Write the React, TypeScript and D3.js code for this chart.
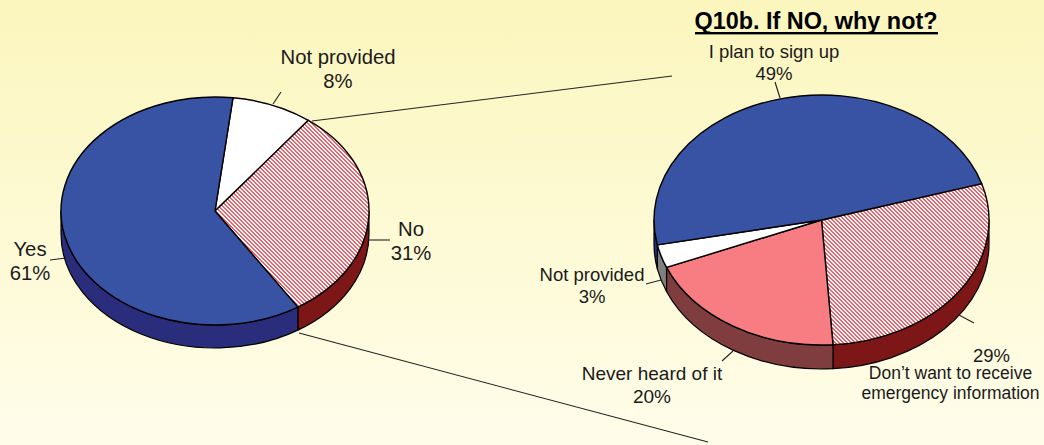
import React from "react";
import * as d3 from "d3";

// Values
const leftCategories = ["Not provided", "No", "Yes"];
const leftValues = [8.5, 30.6, 60.9];
const rightCategories = ["Don't want", "Never heard of it", "Not provided", "I plan to sign up"];
const rightValues = [28.6, 19.9, 3.0, 48.5];

const W = 1044, H = 445;
const FONT = "'Liberation Sans', Arial, sans-serif";
const INK = "#1a1a1a";

type Slice = { top: string; wall: string };
const leftStyles: Slice[] = [
  { top: "#ffffff", wall: "#808080" },
  { top: "url(#hatch)", wall: "#7d1616" },
  { top: "#3953a4", wall: "#2a2d7c" },
];
const rightStyles: Slice[] = [
  { top: "url(#hatch)", wall: "#7d1616" },
  { top: "#f77d82", wall: "#7f3d3f" },
  { top: "#ffffff", wall: "#808080" },
  { top: "#3953a4", wall: "#2a2d7c" },
];

function Pie3D({ values, styles, cx, cy, rx, ry, depth, startDeg, names }: {
  values: number[]; styles: Slice[]; cx: number; cy: number; rx: number; ry: number; depth: number; startDeg: number; names: string[];
}) {
  const start = (startDeg * Math.PI) / 180;
  const arcs = d3.pie<number>().sort(null).startAngle(start).endAngle(start + 2 * Math.PI)(values);
  const x = d3.scaleLinear().domain([-1, 1]).range([cx - rx, cx + rx]);
  const y = d3.scaleLinear().domain([-1, 1]).range([cy - ry, cy + ry]);
  const px = (t: number) => x(Math.sin(t));
  const py = (t: number) => y(-Math.cos(t));
  const ell = (a: number, b: number, cw: boolean, dy = 0) => {
    const large = Math.abs(b - a) > Math.PI ? 1 : 0;
    return `A${rx},${ry} 0 ${large} ${cw ? 1 : 0} ${px(b)},${py(b) + dy}`;
  };
  const lo = Math.PI / 2, hi = (3 * Math.PI) / 2;
  const walls: React.ReactNode[] = [];
  arcs.forEach((a, i) => {
    [0, 2 * Math.PI].forEach((off) => {
      const s = Math.max(a.startAngle - off, lo), e = Math.min(a.endAngle - off, hi);
      if (e <= s) return;
      const d = `M${px(s)},${py(s)}${ell(s, e, true)}L${px(e)},${py(e) + depth}${ell(e, s, false, depth)}Z`;
      walls.push(<path key={`w${i}-${off}`} d={d} fill={styles[i].wall} stroke="#000" strokeWidth={1.2} strokeLinejoin="round" />);
    });
  });
  return (
    <g>
      {walls}
      {arcs.map((a, i) => (
        <path
          key={i}
          data-name={names[i]}
          d={`M${cx},${cy}L${px(a.startAngle)},${py(a.startAngle)}${ell(a.startAngle, a.endAngle, true)}Z`}
          fill={styles[i].top}
          stroke="#000"
          strokeWidth={1.4}
          strokeLinejoin="round"
        />
      ))}
    </g>
  );
}

function Label({ x, y, lines, size, gap }: { x: number; y: number; lines: string[]; size: number; gap?: number }) {
  return (
    <text x={x} y={y} textAnchor="middle" fontFamily={FONT} fontSize={size} fill={INK}>
      {lines.map((l, i) => (
        <tspan key={i} x={x} dy={i === 0 ? 0 : gap ?? size * 1.2}>{l}</tspan>
      ))}
    </text>
  );
}

const hatchPeriod = d3.range(4);

export default function App() {
  return (
    <svg width={W} height={H} viewBox={`0 0 ${W} ${H}`} style={{ position: "absolute", left: 0, top: 0, display: "block" }}>
      <defs>
        <linearGradient id="bg" x1="0" y1="0" x2="0" y2="1">
          <stop offset="0" stopColor="#fbf6bd" />
          <stop offset="1" stopColor="#fffdea" />
        </linearGradient>
        <pattern id="hatch" width={4} height={4} patternUnits="userSpaceOnUse" shapeRendering="crispEdges">
          <rect width={4} height={4} fill="#fff" />
          {hatchPeriod.map((i) => (
            <g key={i} fill="#f2626a">
              <rect x={i} y={i} width={1} height={1} />
              <rect x={(i + 1) % 4} y={i} width={1} height={1} />
            </g>
          ))}
        </pattern>
      </defs>
      <rect width={W} height={H} fill="url(#bg)" />

      <Pie3D values={leftValues} styles={leftStyles} names={leftCategories} cx={215} cy={211} rx={154} ry={114} depth={23} startDeg={6.7} />
      <Pie3D values={rightValues} styles={rightStyles} names={rightCategories} cx={821.5} cy={220} rx={167.5} ry={125} depth={24} startDeg={73.1} />

      <g stroke="#222" strokeWidth={1.1} fill="none">
        <line x1={312} y1={121} x2={672} y2={76} />
        <line x1={299} y1={333} x2={708} y2={442} />
        <line x1={273} y1={104} x2={281} y2={92} />
        <line x1={369} y1={240} x2={390} y2={240} />
        <line x1={50} y1={260} x2={66} y2={258} />
        <line x1={775} y1={82} x2={780} y2={98} />
        <line x1={646} y1={284} x2={661} y2={280} />
        <line x1={722} y1={361} x2={733} y2={351} />
        <line x1={959} y1={315} x2={974} y2={323} />
      </g>

      <Label x={338} y={64} lines={["Not provided", "8%"]} size={20.3} />
      <Label x={411} y={236} lines={["No", "31%"]} size={20.3} gap={23.5} />
      <Label x={30} y={256} lines={["Yes", "61%"]} size={20.3} />
      <Label x={774} y={58} lines={["I plan to sign up", "49%"]} size={18.5} gap={21.5} />
      <Label x={592} y={281} lines={["Not provided", "3%"]} size={18.5} />
      <Label x={652} y={380} lines={["Never heard of it", "20%"]} size={19} />
      <Label x={991.5} y={362} lines={["29%"]} size={18.5} />
      <Label x={950.5} y={379} lines={["Don\u2019t want to receive", "emergency information"]} size={17.5} gap={20} />

      <text x={816} y={29} textAnchor="middle" fontFamily={FONT} fontSize={23.4} fontWeight="bold" fill="#000">Q10b. If NO, why not?</text>
      <rect x={695} y={32} width={243} height={2.4} fill="#000" />
    </svg>
  );
}
